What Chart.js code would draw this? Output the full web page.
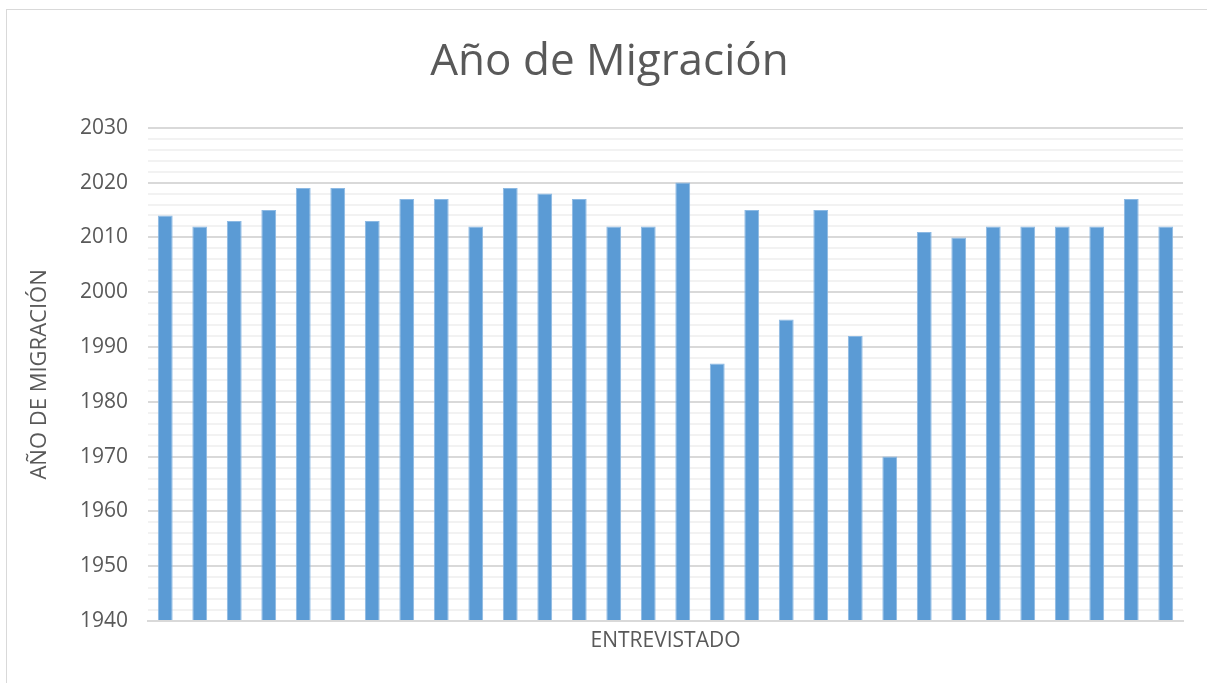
<!DOCTYPE html>
<html>
<head>
<meta charset="utf-8">
<script src="https://cdn.jsdelivr.net/npm/chart.js@4"></script>
<style>
  html, body { margin: 0; padding: 0; background: #fff; overflow: hidden; }
  #frame { position: absolute; left: 6px; top: 9px; width: 1220px; height: 700px; border: 1px solid #d9d9d9; }
  #wrap { position: absolute; left: 0; top: 0; width: 1207px; height: 683px; }
</style>
</head>
<body>
<div id="frame"></div>
<div id="wrap"><canvas id="myChart" width="1207" height="683"></canvas></div>
<script>
// one bar per interviewee
const entrevistados = ["1","2","3","4","5","6","7","8","9","10","11","12","13","14","15",
  "16","17","18","19","20","21","22","23","24","25","26","27","28","29","30"];
const anioMigracion = [2014,2012,2013,2015,2019,2019,2013,2017,2017,2012,2019,2018,2017,2012,2012,
  2020,1987,2015,1995,2015,1992,1970,2011,2010,2012,2012,2012,2012,2017,2012];
const yMin = 1940, yMax = 2030;

const gray = "#595959";
const fam = "'Open Sans', sans-serif";

const ctx = document.getElementById("myChart").getContext("2d");
new Chart(ctx, {
  type: "bar",
  data: {
    labels: entrevistados,
    datasets: [{
      data: anioMigracion,
      backgroundColor: "#5b9bd5",
      borderColor: "#8cb9e3",
      borderWidth: 1,
      categoryPercentage: 1,
      barPercentage: 0.43,
      base: yMin
    }]
  },
  options: {
    responsive: false,
    animation: false,
    layout: { padding: { top: 8, right: 24, bottom: 20, left: 36 } },
    plugins: {
      legend: { display: false },
      tooltip: { enabled: false },
      title: {
        display: true,
        text: "Año de Migración",
        color: gray,
        font: { family: fam, size: 44, weight: "normal" },
        padding: { top: 28, bottom: 39 }
      }
    },
    scales: {
      x: {
        grid: { display: false },
        border: { display: true, color: "#d9d9d9", width: 2 },
        ticks: { display: false },
        title: {
          display: true,
          text: "ENTREVISTADO",
          color: gray,
          font: { family: fam, size: 21 },
          padding: { top: 8, bottom: 9 }
        },
        afterFit: s => { s.height = 42; }
      },
      y: {
        min: yMin,
        max: yMax,
        border: { display: false },
        grid: {
          drawTicks: false,
          color: c => (c.tick && c.tick.value % 10 === 0) ? "#d9d9d9" : "#f2f2f2",
          lineWidth: 2
        },
        ticks: {
          stepSize: 2,
          autoSkip: false,
          padding: 20,
          color: gray,
          font: { family: fam, size: 21 },
          callback: v => (v % 10 === 0 ? String(v) : "")
        },
        title: {
          display: true,
          text: "AÑO DE MIGRACIÓN",
          color: gray,
          font: { family: fam, size: 22 },
          padding: { top: -9, bottom: 0 }
        },
        afterFit: s => { s.width = 112; }
      }
    }
  }
});
</script>
</body>
</html>
